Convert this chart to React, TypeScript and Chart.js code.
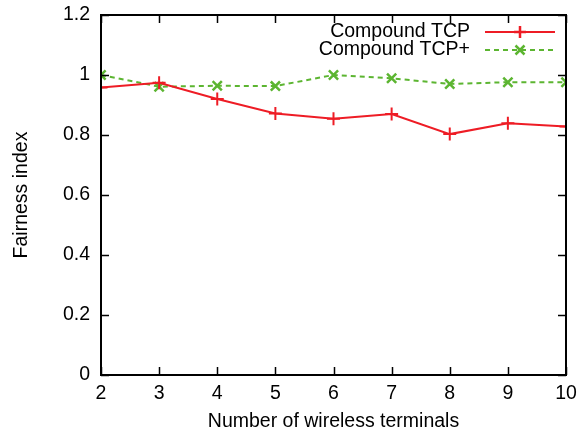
import React, { useEffect, useRef } from "react";
import { Chart, registerables } from "chart.js";

Chart.register(...registerables);

const terminals = [2, 3, 4, 5, 6, 7, 8, 9, 10];
const compoundTcp = [0.958, 0.974, 0.92, 0.872, 0.854, 0.87, 0.803, 0.839, 0.828];
const compoundTcpPlus = [1.0, 0.961, 0.964, 0.963, 1.0, 0.989, 0.97, 0.976, 0.976];
const seriesLabels = ["Compound TCP", "Compound TCP+"];
const xTitle = "Number of wireless terminals";
const yTitle = "Fairness index";

const FONT = "Liberation Sans, Arial, Helvetica, sans-serif";
const FS = 19.5;

const framePlugin = {
  id: "gnuFrame",
  afterDraw(chart: any) {
    const { ctx, chartArea } = chart;
    const { left, right, top, bottom } = chartArea;
    const xs = chart.scales.x;
    const ys = chart.scales.y;
    ctx.save();
    ctx.strokeStyle = "#000";
    ctx.lineWidth = 2;
    ctx.strokeRect(left, top, right - left, bottom - top);
    ctx.lineWidth = 1.5;
    const tl = 8;
    ctx.beginPath();
    xs.ticks.forEach((t: any) => {
      const px = Math.round(xs.getPixelForValue(t.value)) + 0.5;
      ctx.moveTo(px, bottom);
      ctx.lineTo(px, bottom - tl);
      ctx.moveTo(px, top);
      ctx.lineTo(px, top + tl);
    });
    ys.ticks.forEach((t: any) => {
      const py = Math.round(ys.getPixelForValue(t.value)) + 0.5;
      ctx.moveTo(left, py);
      ctx.lineTo(left + tl, py);
      ctx.moveTo(right, py);
      ctx.lineTo(right - tl, py);
    });
    ctx.stroke();

    // legend
    ctx.font = `${FS}px ${FONT}`;
    ctx.textAlign = "right";
    ctx.textBaseline = "middle";
    const textRight = right - 96;
    const lx0 = right - 81;
    const lx1 = right - 11;
    chart.data.datasets.forEach((ds: any, i: number) => {
      const y = top + 17 + i * 18;
      ctx.fillStyle = "#000";
      ctx.fillText(ds.label, textRight, y);
      ctx.strokeStyle = ds.borderColor;
      ctx.lineWidth = ds.borderWidth;
      ctx.setLineDash(ds.borderDash || []);
      ctx.beginPath();
      ctx.moveTo(lx0, y);
      ctx.lineTo(lx1, y);
      ctx.stroke();
      ctx.setLineDash([]);
      const cx = (lx0 + lx1) / 2;
      const r = 6;
      ctx.lineWidth = 2.5;
      ctx.beginPath();
      if (ds.pointStyle === "cross") {
        ctx.moveTo(cx, y - r);
        ctx.lineTo(cx, y + r);
        ctx.moveTo(cx - r, y);
        ctx.lineTo(cx + r, y);
      } else {
        const d = r * 0.75;
        ctx.moveTo(cx - d, y - d);
        ctx.lineTo(cx + d, y + d);
        ctx.moveTo(cx - d, y + d);
        ctx.lineTo(cx + d, y - d);
      }
      ctx.stroke();
    });
    ctx.restore();
  },
};

export default function App() {
  const ref = useRef<HTMLCanvasElement>(null);
  useEffect(() => {
    document.body.style.margin = "0";
    const canvas = ref.current!;
    const chart = new Chart(canvas, {
      type: "line",
      data: {
        datasets: [
          {
            label: seriesLabels[0],
            data: terminals.map((x, i) => ({ x, y: compoundTcp[i] })),
            borderColor: "#ee1c25",
            backgroundColor: "#ee1c25",
            borderWidth: 2,
            pointStyle: "cross",
            pointRadius: 6.5,
            pointBorderWidth: 2,
            tension: 0,
          },
          {
            label: seriesLabels[1],
            data: terminals.map((x, i) => ({ x, y: compoundTcpPlus[i] })),
            borderColor: "#5cb531",
            backgroundColor: "#5cb531",
            borderWidth: 2,
            borderDash: [5, 4],
            pointStyle: "crossRot",
            pointRadius: 6.5,
            pointBorderWidth: 2.5,
            tension: 0,
          },
        ],
      },
      options: {
        responsive: false,
        animation: false,
        layout: { padding: { top: 15, right: 12, left: 10, bottom: 0 } },
        plugins: { legend: { display: false }, tooltip: { enabled: false } },
        scales: {
          x: {
            type: "linear",
            min: 2,
            max: 10,
            grid: { display: false, drawTicks: false },
            border: { display: false },
            ticks: {
              stepSize: 1,
              color: "#000",
              font: { family: FONT, size: FS },
              padding: 7,
              maxRotation: 0,
            },
            title: {
              display: true,
              text: xTitle,
              color: "#000",
              font: { family: FONT, size: FS },
              padding: { top: 0, bottom: 4 },
            },
            afterFit(s: any) {
              s.height = 62;
              s.paddingLeft = 0;
              s.paddingRight = 0;
            },
          },
          y: {
            min: 0,
            max: 1.2,
            grid: { display: false, drawTicks: false },
            border: { display: false },
            ticks: {
              stepSize: 0.2,
              color: "#000",
              font: { family: FONT, size: FS },
              padding: 11,
              callback: (v: any) => String(Math.round(v * 10) / 10),
            },
            title: {
              display: true,
              text: yTitle,
              color: "#000",
              font: { family: FONT, size: FS },
              padding: { top: 0, bottom: 8 },
            },
            afterFit(s: any) {
              s.width = 91;
              s.paddingTop = 0;
              s.paddingBottom = 0;
            },
          },
        },
      },
      plugins: [framePlugin],
    });
    return () => chart.destroy();
  }, []);
  return <canvas ref={ref} width={578} height={437} style={{ display: "block" }} />;
}
